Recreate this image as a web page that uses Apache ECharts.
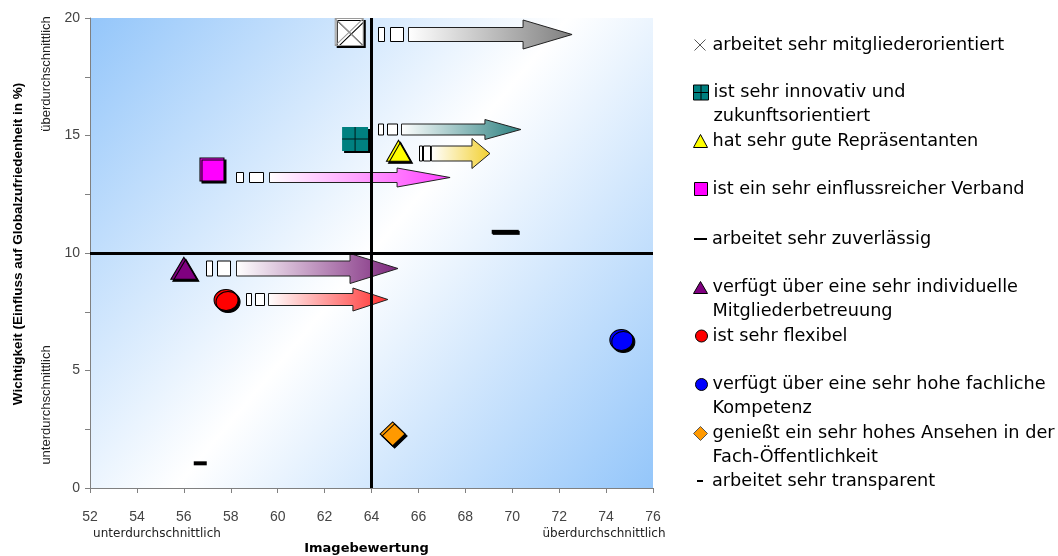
<!DOCTYPE html>
<html>
<head>
<meta charset="utf-8">
<script src="https://cdn.jsdelivr.net/npm/echarts@6/dist/echarts.min.js"></script>
<style>
  html, body { margin: 0; padding: 0; background: #ffffff; }
  #chart { width: 1058px; height: 556px; }
</style>
</head>
<body>
<div id="chart"></div>
<script>
// Attributes of the association (legend entries, one series each)
const attributes = [
  'arbeitet sehr mitgliederorientiert',
  'ist sehr innovativ und\nzukunftsorientiert',
  'hat sehr gute Repräsentanten',
  'ist ein sehr einflussreicher Verband',
  'arbeitet sehr zuverlässig',
  'verfügt über eine sehr individuelle\nMitgliederbetreuung',
  'ist sehr flexibel',
  'verfügt über eine sehr hohe fachliche\nKompetenz',
  'genießt ein sehr hohes Ansehen in der\nFach-Öffentlichkeit',
  'arbeitet sehr transparent'
];
// Image rating (x) and importance for overall satisfaction in % (y)
const imageRating = [63.05, 63.3, 65.15, 57.2, 69.7, 56.0, 57.8, 74.65, 64.9, 56.7];
const importance  = [19.4, 14.85, 14.35, 13.55, 10.9, 9.35, 8.0, 6.3, 2.3, 1.05];

// Improvement arrows: level, start and tip on the image scale
const trendLevel = [19.33, 15.28, 14.26, 13.23, 9.36, 8.04];
const trendFrom  = [64.28, 64.28, 66.01, 58.22, 56.94, 58.65];
const trendTo    = [72.55, 70.37, 69.05, 67.35, 65.13, 64.70];

// Axis ticks and quadrant dividers
const xTicks = [52, 54, 56, 58, 60, 62, 64, 66, 68, 70, 72, 74, 76];
const yTicks = [0, 5, 10, 15, 20];
const dividerX = [64];
const dividerY = [10];

// ---- styling ----
const markerLooks = [
  { symbol: 'path://M0,0L28,0L28,27L0,27Z M0,0L28,27 M28,0L0,27', size: [28, 27], color: '#ffffff', border: '#9a9a9a' },
  { symbol: 'rect', size: [26, 24], color: '#008080', border: null },
  { symbol: 'triangle', size: [24, 21], color: '#ffff00', border: '#000' },
  { symbol: 'rect', size: [24, 23], color: '#ff00ff', border: '#000' },
  { symbol: 'rect', size: [27, 4], color: '#000000', border: null, shadow: 1 },
  { symbol: 'triangle', size: [26, 22], color: '#800080', border: '#000' },
  { symbol: 'circle', size: [24, 21], color: '#ff0000', border: '#000' },
  { symbol: 'circle', size: [23, 21], color: '#0000ff', border: '#000' },
  { symbol: 'diamond', size: [25, 24], color: '#ff9900', border: '#000' },
  { symbol: 'rect', size: [13, 4], color: '#000000', border: null, shadow: 0 }
];
// Legend icons; two-line entries use a 48px tall icon box with the glyph in its upper row
const legendLooks = [
  { icon: 'path://M0,0L10,10M10,0L0,10', w: 11, h: 11, left: 694, color: 'transparent', border: '#555', padL: 2 },
  { icon: 'path://M0,0 M0,48 M0,4.5L15,4.5L15,19.5L0,19.5Z M7.5,4.5L7.5,19.5 M0,12L15,12', w: 15, h: 48, left: 693, color: '#008080', border: '#000', padL: 0 },
  { icon: 'triangle', w: 14, h: 13, left: 693, color: '#ffff00', border: '#000', padL: 0 },
  { icon: 'rect', w: 13, h: 13, left: 694, color: '#ff00ff', border: '#000', padL: 0 },
  { icon: 'rect', w: 13, h: 2, left: 694, color: '#000', border: null, padL: 0 },
  { icon: 'path://M0,0 M0,48 M7,6L14,18L0,18Z', w: 14, h: 48, left: 693, color: '#800080', border: '#000', padL: 0 },
  { icon: 'circle', w: 12, h: 12, left: 695, color: '#ff0000', border: '#000', padL: 0 },
  { icon: 'path://M0,0 M0,48 M0,12A6,6,0,1,1,12,12A6,6,0,1,1,0,12Z', w: 12, h: 48, left: 695, color: '#0000ff', border: '#000', padL: 0 },
  { icon: 'path://M0,0 M0,48 M7,5L14,12L7,19L0,12Z', w: 14, h: 48, left: 693, color: '#ff9900', border: '#555', padL: 0 },
  { icon: 'rect', w: 6, h: 2, left: 697, color: '#000', border: null, padL: 4 }
];
const legendLineCenter = [45, 92, 141, 189, 239, 287, 336, 384, 433, 481];

const arrowLooks = [
  { color: '#7f7f7f', shaft: 14, head: 29, headLen: 49, r1: 6, g1: 6, r2: 13, g2: 5 },
  { color: '#2c8080', shaft: 11, head: 20, headLen: 36, r1: 5, g1: 4, r2: 10, g2: 4 },
  { color: '#f2d030', shaft: 15, head: 30, headLen: 18, r1: 3, g1: 1, r2: 7, g2: 1 },
  { color: '#ff40ff', shaft: 10, head: 19, headLen: 53, r1: 7, g1: 6, r2: 14, g2: 6 },
  { color: '#7c267c', shaft: 15, head: 30, headLen: 48, r1: 6, g1: 5, r2: 13, g2: 6 },
  { color: '#ff3030', shaft: 12, head: 23, headLen: 35, r1: 5, g1: 4, r2: 9, g2: 4 }
];

const chart = echarts.init(document.getElementById('chart'), null, { renderer: 'canvas' });

// One scatter series per attribute
const series = attributes.map((name, i) => {
  const look = markerLooks[i];
  const off = look.shadow === undefined ? 2 : look.shadow;
  return {
    type: 'scatter',
    name: name,
    z: 3,
    symbol: look.symbol,
    symbolSize: look.size,
    data: [[imageRating[i], importance[i]]],
    itemStyle: Object.assign({
      color: look.color,
      borderColor: look.border || look.color,
      borderWidth: look.border ? 1 : 0,
      opacity: 1
    }, off ? { shadowColor: '#000', shadowBlur: 0, shadowOffsetX: off, shadowOffsetY: off } : {}),
    emphasis: { disabled: true },
    silent: true
  };
});

// Cross lines on the innovative/future-oriented marker
series.push({
  type: 'scatter',
  name: attributes[1],
  z: 4,
  symbol: 'path://M5,0L5,10 M0,5L10,5',
  symbolSize: markerLooks[1].size,
  data: [[imageRating[1], importance[1]]],
  itemStyle: { color: 'transparent', borderColor: '#000', borderWidth: 1 },
  emphasis: { disabled: true },
  silent: true
});

// Improvement arrows
series.push({
  type: 'custom',
  name: 'trend',
  z: 2,
  silent: true,
  data: trendLevel.map((y, k) => [y, trendFrom[k], trendTo[k]]),
  encode: { x: [1, 2], y: 0 },
  renderItem: function (params, api) {
    const look = arrowLooks[params.dataIndex];
    const start = api.coord([api.value(1), api.value(0)]);
    const tip = api.coord([api.value(2), api.value(0)]);
    const cy = Math.round(start[1]) + 0.5;
    let x = Math.round(start[0]) + 0.5;
    const hs = look.shaft / 2, hh = look.head / 2;
    const children = [];
    children.push({ type: 'rect', shape: { x: x, y: cy - hs, width: look.r1, height: look.shaft },
      style: { fill: '#fff', stroke: '#000', lineWidth: 1 } });
    x += look.r1 + look.g1;
    children.push({ type: 'rect', shape: { x: x, y: cy - hs, width: look.r2, height: look.shaft },
      style: { fill: '#fff', stroke: '#000', lineWidth: 1 } });
    x += look.r2 + look.g2;
    const tx = tip[0];
    const headStart = tx - look.headLen;
    children.push({
      type: 'polygon',
      shape: { points: [[x, cy - hs], [headStart, cy - hs], [headStart, cy - hh], [tx, cy],
                        [headStart, cy + hh], [headStart, cy + hs], [x, cy + hs]] },
      style: {
        fill: new echarts.graphic.LinearGradient(0, 0, 1, 0, [
          { offset: 0, color: '#ffffff' },
          { offset: 1, color: look.color }
        ]),
        stroke: '#222', lineWidth: 1
      }
    });
    return { type: 'group', children: children };
  }
});

// Quadrant dividers
series.push({
  type: 'line',
  name: 'dividers',
  z: 6,
  data: [],
  silent: true,
  markLine: {
    silent: true,
    symbol: 'none',
    label: { show: false },
    lineStyle: { color: '#000', width: 3, type: 'solid' },
    emphasis: { disabled: true },
    data: [{ xAxis: dividerX[0] }, { yAxis: dividerY[0] }]
  }
});

// One legend block per attribute so the rows keep their own spacing
const legends = attributes.map((name, i) => {
  const lk = legendLooks[i];
  return {
    orient: 'vertical',
    left: lk.left,
    top: legendLineCenter[i] - 12,
    padding: 0,
    itemWidth: lk.w,
    itemHeight: lk.h,
    selectedMode: false,
    data: [{
      name: name,
      icon: lk.icon,
      itemStyle: { color: lk.color, borderColor: lk.border || lk.color, borderWidth: lk.border ? 1 : 0 }
    }],
    textStyle: {
      fontFamily: 'DejaVu Sans',
      fontSize: 17.7,
      lineHeight: 24,
      color: '#000',
      padding: [0, 0, 0, lk.padL]
    }
  };
});

const tickFont = { fontFamily: 'Liberation Sans', fontSize: 14, color: '#444' };

const option = {
  animation: false,
  backgroundColor: '#ffffff',
  grid: {
    left: 90, top: 18, right: 405, bottom: 68,
    outerBoundsMode: 'none',
    containLabel: false,
    show: true,
    borderWidth: 0,
    backgroundColor: new echarts.graphic.LinearGradient(0, 0, 1, 1, [
      { offset: 0, color: '#94c6fa' },
      { offset: 0.5, color: '#ffffff' },
      { offset: 1, color: '#94c6fa' }
    ])
  },
  xAxis: {
    type: 'value',
    min: xTicks[0],
    max: xTicks[xTicks.length - 1],
    interval: xTicks[1] - xTicks[0],
    name: 'Imagebewertung',
    nameLocation: 'middle',
    nameGap: 54,
    nameTextStyle: { fontFamily: 'DejaVu Sans', fontWeight: 'bold', fontSize: 13, color: '#000', padding: [0, 10, 0, 0] },
    axisLine: { onZero: false, lineStyle: { color: '#808080', width: 1 } },
    axisTick: { show: true, length: 5, lineStyle: { color: '#808080' } },
    axisLabel: Object.assign({ margin: 22 }, tickFont),
    splitLine: { show: false }
  },
  yAxis: {
    type: 'value',
    min: yTicks[0],
    max: yTicks[yTicks.length - 1],
    interval: (yTicks[1] - yTicks[0]) / 2,
    name: 'Wichtigkeit (Einfluss auf Globalzufriedenheit in %)',
    nameLocation: 'middle',
    nameGap: 65,
    nameTextStyle: { fontFamily: 'Liberation Sans', fontWeight: 'bold', fontSize: 13.5, color: '#000', padding: [0, 0, 0, 18] },
    axisLine: { onZero: false, lineStyle: { color: '#808080', width: 1 } },
    axisTick: { show: true, length: 5, lineStyle: { color: '#808080' } },
    axisLabel: Object.assign({
      margin: 10,
      formatter: v => (yTicks.indexOf(v) >= 0 ? String(v) : '')
    }, tickFont),
    splitLine: { show: false }
  },
  legend: legends,
  graphic: [
    { type: 'text', x: 46, y: 74, rotation: Math.PI / 2, silent: true,
      style: { text: 'überdurchschnittlich', font: '13px "Liberation Sans"', fill: '#222', align: 'center', verticalAlign: 'middle' } },
    { type: 'text', x: 46, y: 405, rotation: Math.PI / 2, silent: true,
      style: { text: 'unterdurchschnittlich', font: '13px "Liberation Sans"', fill: '#222', align: 'center', verticalAlign: 'middle' } },
    { type: 'text', x: 157, y: 534, silent: true,
      style: { text: 'unterdurchschnittlich', font: '12px "DejaVu Sans"', fill: '#222', align: 'center', verticalAlign: 'middle' } },
    { type: 'text', x: 604, y: 534, silent: true,
      style: { text: 'überdurchschnittlich', font: '12px "DejaVu Sans"', fill: '#222', align: 'center', verticalAlign: 'middle' } }
  ],
  series: series
};

chart.setOption(option);
</script>
</body>
</html>
